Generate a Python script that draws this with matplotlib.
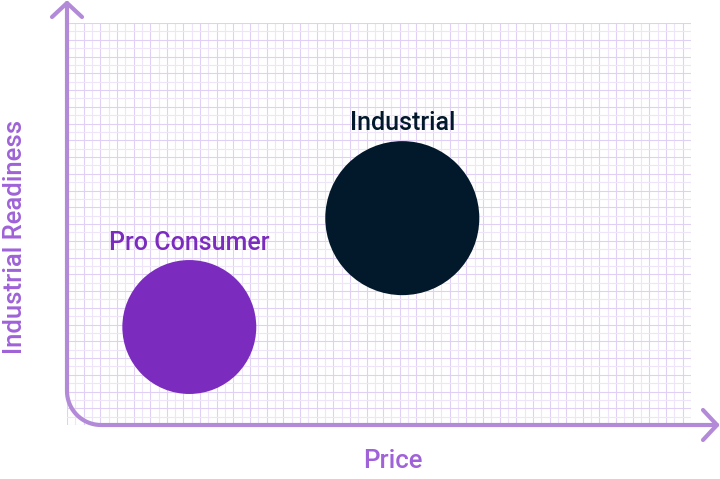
import matplotlib
matplotlib.use("Agg")
import matplotlib.pyplot as plt
import numpy as np
from matplotlib.path import Path
from matplotlib.patches import PathPatch

# segments and where they sit (grid cells), bubble sizes in points^2
names = ["Pro Consumer", "Industrial"]
price = [14.7, 40.3]
readiness = [11.7, 24.7]
sizes = [9300, 12300]
colors = ["#7B2CBF", "#02182B"]
label_colors = ["#7B2CBF", "#02182B"]
label_y = [21.7, 36.1]

axis_color = "#B38AD8"
label_color = "#9F62D8"

fig = plt.figure(figsize=(7.2, 4.79), dpi=100)

# grid / data area in pixels: x 67..691, y 23..425
W, H = 720, 479
ax = fig.add_axes([67 / W, (H - 425) / H, (691 - 67) / W, (425 - 23) / H])
ax.set_xlim(0, 75)
ax.set_ylim(0, 48)
ax.set_xticks(np.arange(0, 76, 2))
ax.set_xticks(np.arange(1, 76, 2), minor=True)
ax.set_yticks(np.arange(0, 49, 2))
ax.set_yticks(np.arange(1, 49, 2), minor=True)
ax.grid(which="major", color="#E0D0F5", lw=0.8)
ax.grid(which="minor", color="#EEE5FA", lw=0.8)
ax.tick_params(which="both", length=0, labelbottom=False, labelleft=False)
for s in ax.spines.values():
    s.set_visible(False)
ax.set_axisbelow(True)

ax.scatter(price, readiness, s=sizes, c=colors, zorder=3, linewidths=0)
for n, x, y, c in zip(names, price, label_y, label_colors):
    ax.text(x, y, n, ha="center", va="center", fontsize=18,
            family="Roboto", fontweight="medium", color=c, zorder=4)

# overlay in pixel coordinates for the hand-drawn axes
ov = fig.add_axes([0, 0, 1, 1])
ov.set_xlim(0, W)
ov.set_ylim(H, 0)
ov.axis("off")
ov.patch.set_alpha(0)

r = 34
t = np.linspace(np.pi, np.pi / 2, 20)
arc_x = 67 + r + r * np.cos(t)
arc_y = 425 - r + r * np.sin(t)
pts = [(67, 3), (67, 425 - r)] + list(zip(arc_x, arc_y)) + [(717, 425)]
codes = [Path.MOVETO] + [Path.LINETO] * (len(pts) - 1)
ov.add_patch(PathPatch(Path(pts, codes), fill=False, ec=axis_color, lw=3,
                       capstyle="round", joinstyle="round"))
for arrow in ([(52, 17), (67, 3), (82, 17)], [(703, 410), (717, 425), (703, 440)]):
    ov.add_patch(PathPatch(Path(arrow, [Path.MOVETO, Path.LINETO, Path.LINETO]),
                           fill=False, ec=axis_color, lw=3,
                           capstyle="round", joinstyle="round"))

fig.text(393 / W, 1 - 461 / H, "Price", ha="center", va="center",
         fontsize=18.5, family="Roboto", fontweight="medium", color=label_color)
fig.text(15 / W, 1 - 237 / H, "Industrial Readiness", ha="center", va="center",
         rotation=90, fontsize=18.5, family="Roboto", fontweight="medium",
         color=label_color)

fig.savefig("out.png", dpi=100)
